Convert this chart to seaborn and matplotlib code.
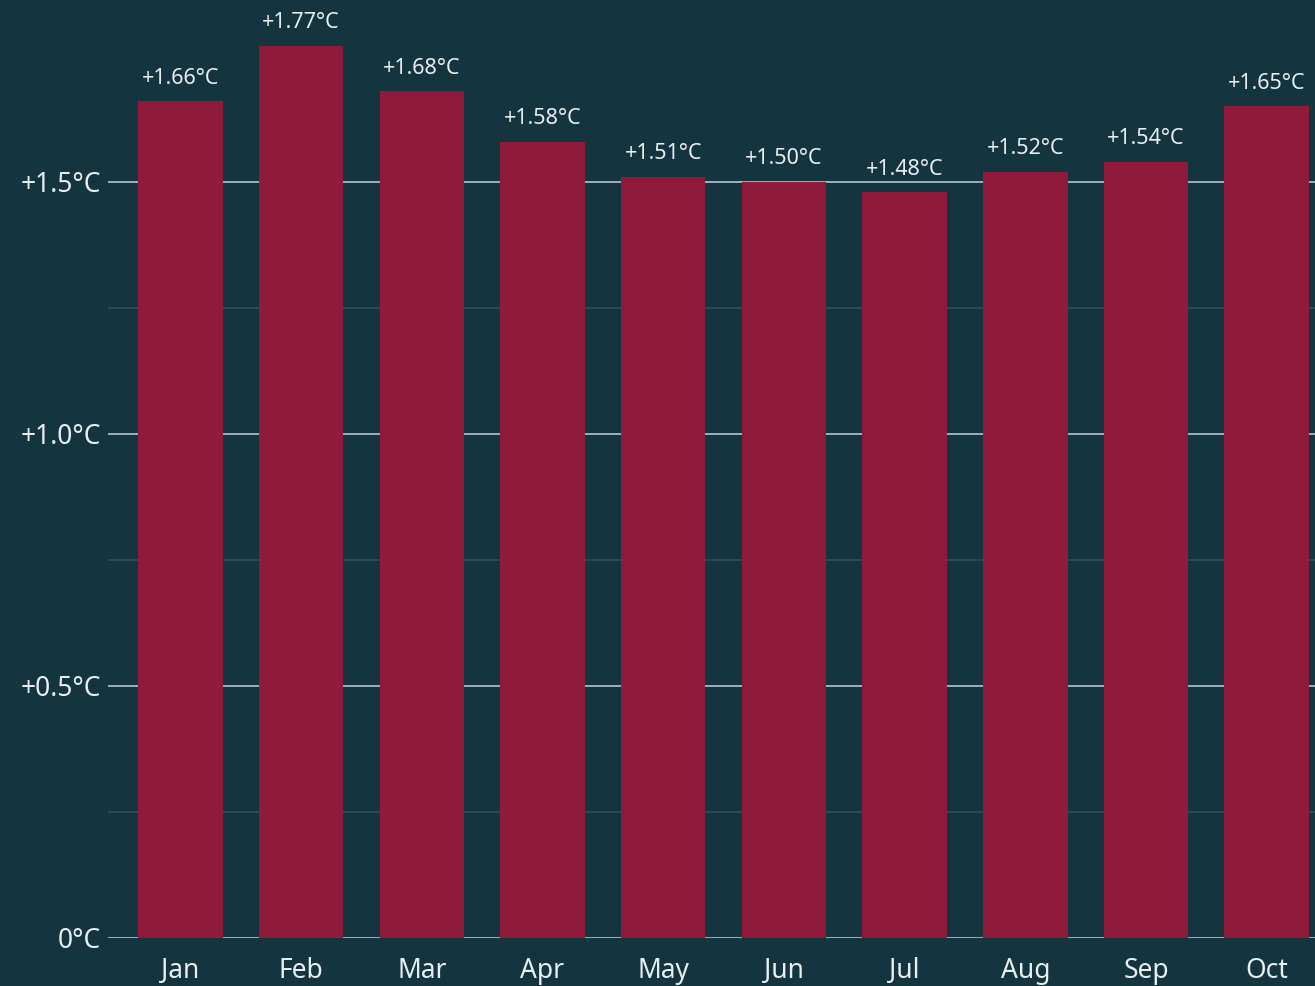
import seaborn as sns
import matplotlib.pyplot as plt
import pandas as pd

# monthly anomaly vs pre-industrial
months = ["Jan", "Feb", "Mar", "Apr", "May", "Jun", "Jul", "Aug", "Sep", "Oct"]
anomaly = [1.66, 1.77, 1.68, 1.58, 1.51, 1.50, 1.48, 1.52, 1.54, 1.65]
ytick_vals = [0, 0.5, 1.0, 1.5]
ytick_labels = ["0°C", "+0.5°C", "+1.0°C", "+1.5°C"]
minor_vals = [0.25, 0.75, 1.25]

BG = "#14343f"
BAR = "#8f1a3a"
TXT = "#e8eff1"

sns.set_theme(style="dark")
plt.rcParams["font.family"] = ["Noto Sans", "DejaVu Sans"]

df = pd.DataFrame({"month": months, "anomaly": anomaly})

fig = plt.figure(figsize=(13.15, 9.86), dpi=100, facecolor=BG)
ax = fig.add_axes([108 / 1315, 48 / 986, 1 - 108 / 1315, 938 / 986])
ax.set_facecolor(BG)

sns.barplot(data=df, x="month", y="anomaly", color=BAR, saturation=1,
            width=0.7, linewidth=0, edgecolor=BAR, ax=ax, zorder=3)

# grid lines
for v in ytick_vals:
    ax.axhline(v, color="#9fb2b8", lw=1.4, zorder=1)
for v in minor_vals:
    ax.axhline(v, color="#2f4f5a", lw=1.2, zorder=1)

for i, v in enumerate(anomaly):
    ax.annotate(f"+{v:.2f}°C", (i, v), xytext=(0, 9), textcoords="offset points",
                ha="center", va="bottom", color=TXT, fontsize=15.5, zorder=4)

ax.set_ylim(0, 1.861)
ax.set_xlim(-0.6, 9.4)
ax.set_yticks(ytick_vals)
ax.set_yticklabels(ytick_labels)
ax.set_xlabel("")
ax.set_ylabel("")
ax.tick_params(axis="both", length=0, colors=TXT, labelsize=19)
ax.tick_params(axis="y", pad=5)
ax.tick_params(axis="x", pad=14)
for s in ax.spines.values():
    s.set_visible(False)
ax.grid(False)

fig.savefig("out.png", dpi=100, facecolor=BG)
